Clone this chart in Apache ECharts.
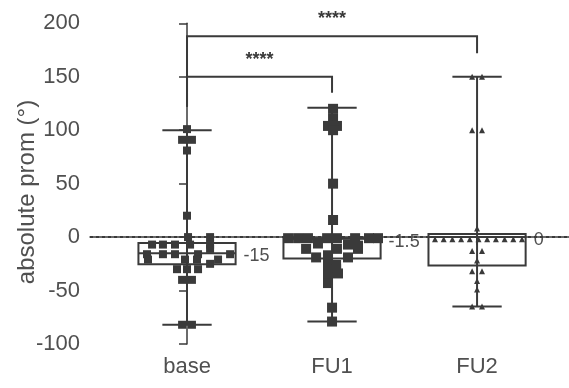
<!DOCTYPE html>
<html><head><meta charset="utf-8">
<script src="https://cdn.jsdelivr.net/npm/echarts@6/dist/echarts.min.js"></script>
<style>html,body{margin:0;padding:0;background:#fff}#c{width:569px;height:388px}</style>
</head><body><div id="c"></div>
<script>
const categories = ['base', 'FU1', 'FU2'];
const yTicks = [-100, -50, 0, 50, 100, 150, 200];
const yTitle = 'absolute prom (°)';
// box summaries: [min, q1, median, q3, max]
const boxBase = [-82, -25.5, -15, -5.5, 100];
const boxFU1 = [-79, -20, -1.5, -1, 121];
const boxFU2 = [-65, -26.5, 0, 3, 150];
const medianLabels = ['-15', '-1.5', '0'];
// individual points: [jitter in category units, value]
const ptsBase = [[0,101],[-0.034,91],[0.034,91],[0,81],[0,20],[0.007,0],[0.159,0],[-0.241,-7],[-0.166,-7],[-0.083,-7],[0.021,-7],[0.159,-7],[0.159,-11],[-0.276,-16],[-0.166,-16],[-0.083,-16],[0.076,-16],[0.297,-16],[-0.269,-21],[-0.014,-21],[0.069,-21],[0.214,-21],[0.159,-25],[-0.069,-30],[0,-30],[0.076,-30],[-0.034,-40],[0.034,-40],[-0.034,-82],[0.034,-82]];
const ptsFU1 = [[0.007,120],[0.007,111],[-0.028,104],[0.034,104],[0.007,100],[0.007,50],[0.007,16],[-0.303,-1],[-0.234,-1],[-0.166,-1],[-0.034,-1],[0.034,-1],[0.159,-1],[0.255,-1],[0.317,-1],[-0.097,-6],[0.11,-7],[0.179,-8],[-0.179,-11],[0.034,-11],[0.179,-11],[-0.11,-19],[-0.028,-17],[0.11,-19],[-0.028,-26],[0.028,-26],[-0.028,-30],[0.028,-30],[0.041,-34],[-0.028,-38],[-0.028,-43],[0,-66],[0,-79]];
const ptsFU2 = [[-0.034,150],[0.034,150],[-0.034,100],[0.034,100],[0,8],[-0.29,-2],[-0.23,-2],[-0.17,-2],[-0.11,-2],[-0.05,-2],[0.01,-2],[0.07,-2],[0.13,-2],[0.19,-2],[0.25,-2],[0.31,-2],[-0.034,-13],[0.034,-13],[0,-22],[-0.034,-32],[0.034,-32],[0,-41],[0,-49],[-0.034,-65],[0.034,-65]];
// significance brackets: [fromCat, toCat, height, leftDropTo, rightDropTo]
const bracketLow = [0, 1, 150, 122, 135];
const bracketHigh = [0, 2, 188, 122, 172];
const sigText = '****';

const INK = '#3a3a3a', TXT = '#505050';
const FONT = '"Liberation Sans", Arial, sans-serif';
const boxes = [boxBase, boxFU1, boxFU2].map((b, i) => [i, ...b, medianLabels[i]]);
const toXY = (pts, i) => pts.map(p => [i + p[0], p[1]]);

const chart = echarts.init(document.getElementById('c'));
chart.setOption({
  animation: false,
  grid: { left: 90, right: 0, top: 23.3, bottom: 44 },
  xAxis: {
    type: 'value', min: -0.669, max: 2.634,
    axisLine: { lineStyle: { color: INK, width: 1.5 } },
    axisTick: { customValues: [0, 1, 2], length: 8, lineStyle: { color: INK, width: 1.5 } },
    axisLabel: { customValues: [0, 1, 2], formatter: v => categories[Math.round(v)], color: TXT, fontSize: 22, fontFamily: FONT, margin: 12 },
    splitLine: { show: false }
  },
  yAxis: {
    type: 'value', min: yTicks[0], max: yTicks[yTicks.length - 1], interval: 50,
    axisLine: { show: true, lineStyle: { color: INK, width: 1.5 } },
    axisTick: { show: true, length: 8, lineStyle: { color: INK, width: 1.5 } },
    axisLabel: { color: TXT, fontSize: 22, fontFamily: FONT, margin: 10 },
    splitLine: { show: false }
  },
  graphic: [{
    type: 'text', x: 27, y: 192, rotation: Math.PI / 2,
    style: { text: yTitle, fill: TXT, font: '24px ' + FONT, textAlign: 'center', textVerticalAlign: 'middle' }
  }],
  series: [
    {
      type: 'custom', z: 2,
      data: boxes,
      encode: { x: 0, y: [1, 2, 3, 4, 5] },
      renderItem(params, api) {
        const i = api.value(0);
        const mn = api.value(1), q1 = api.value(2), md = api.value(3), q3 = api.value(4), mx = api.value(5);
        const lab = boxes[params.dataIndex][6];
        const c = (x, y) => api.coord([x, y]);
        const bw = 0.335, cw = 0.17;
        const tl = c(i - bw, q3), br = c(i + bw, q1);
        const st = { stroke: INK, lineWidth: 2, fill: null };
        const ln = (a, b) => ({ type: 'line', shape: { x1: a[0], y1: a[1], x2: b[0], y2: b[1] }, style: st });
        const mR = c(i + bw, md);
        return { type: 'group', children: [
          ln(c(i, mn), c(i, mx)),
          ln(c(i - cw, mx), c(i + cw, mx)),
          ln(c(i - cw, mn), c(i + cw, mn)),
          { type: 'rect', shape: { x: tl[0], y: tl[1], width: br[0] - tl[0], height: br[1] - tl[1] }, style: st },
          ln(c(i - bw, md), mR),
          { type: 'text', x: mR[0] + 8, y: mR[1] + 3, style: { text: lab, fill: TXT, font: '18px ' + FONT, textAlign: 'left', textVerticalAlign: 'middle' } }
        ] };
      }
    },
    { type: 'scatter', z: 3, symbol: 'rect', symbolSize: 8, itemStyle: { color: INK, opacity: 1 }, data: toXY(ptsBase, 0),
      markLine: { silent: true, symbol: 'none', data: [{ yAxis: 0 }], label: { show: false },
        lineStyle: { type: [3, 3], color: INK, width: 2 } } },
    { type: 'scatter', z: 3, symbol: 'rect', symbolSize: 10, itemStyle: { color: INK, opacity: 1 }, data: toXY(ptsFU1, 1) },
    { type: 'scatter', z: 3, symbol: 'triangle', symbolSize: 6, itemStyle: { color: INK, opacity: 1 }, data: toXY(ptsFU2, 2) },
    {
      type: 'custom', z: 2, clip: false,
      data: [bracketLow, bracketHigh],
      encode: { x: [0, 1], y: [2, 3, 4] },
      renderItem(params, api) {
        const a = api.value(0), b = api.value(1), h = api.value(2), dl = api.value(3), dr = api.value(4);
        const c = (x, y) => api.coord([x, y]);
        const p1 = c(a, dl), p2 = c(a, h), p3 = c(b, h), p4 = c(b, dr);
        const mid = c((a + b) / 2, h);
        return { type: 'group', children: [
          { type: 'polyline', shape: { points: [p1, p2, p3, p4] }, style: { stroke: INK, lineWidth: 2, fill: null } },
          { type: 'text', x: mid[0], y: mid[1] - 17, style: { text: sigText, fill: INK, font: 'bold 18px ' + FONT, textAlign: 'center', textVerticalAlign: 'middle' } }
        ] };
      }
    }
  ]
});
</script></body></html>
